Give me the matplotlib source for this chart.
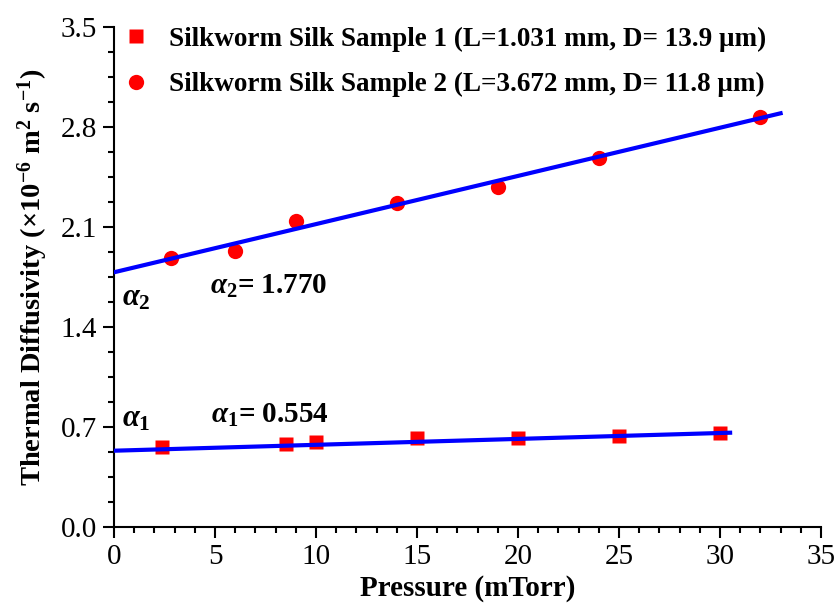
import matplotlib
matplotlib.use("Agg")
import matplotlib.pyplot as plt
from matplotlib.ticker import MultipleLocator

plt.rcParams['font.family'] = ['Liberation Serif', 'DejaVu Serif']
plt.rcParams['mathtext.fontset'] = 'custom'
plt.rcParams['mathtext.rm'] = 'Liberation Serif:bold'
plt.rcParams['mathtext.it'] = 'Liberation Serif:italic:bold'
plt.rcParams['mathtext.bf'] = 'Liberation Serif:bold'

# Data
s1_x = [2.4, 8.5, 10, 15, 20, 25, 30]
s1_y = [0.562, 0.581, 0.597, 0.621, 0.625, 0.639, 0.660]
s2_x = [2.8, 6, 9, 14, 19, 24, 32]
s2_y = [1.881, 1.932, 2.144, 2.266, 2.378, 2.581, 2.872]
fit1_x = [0, 30.5]
fit1_y = [0.534, 0.660]
fit2_x = [0, 33]
fit2_y = [1.783, 2.896]
label1 = 'Silkworm Silk Sample 1 (L=1.031 mm, D= 13.9 μm)'
label2 = 'Silkworm Silk Sample 2 (L=3.672 mm, D= 11.8 μm)'
xticks = [0, 5, 10, 15, 20, 25, 30, 35]
yticks = [0.0, 0.7, 1.4, 2.1, 2.8, 3.5]

fig = plt.figure(figsize=(8.36, 6.05), dpi=100)
ax = fig.add_axes([114/836, 1 - 527/605, (821-114)/836, (527-27)/605])

ax.plot(fit1_x, fit1_y, color='#0000ff', lw=3, zorder=3)
ax.plot(fit2_x, fit2_y, color='#0000ff', lw=3, zorder=3)
h1, = ax.plot(s1_x, s1_y, 's', color='#ff0000', ms=9.5, mec='none', zorder=2, label=label1)
h2, = ax.plot(s2_x, s2_y, 'o', color='#ff0000', ms=11, mec='none', zorder=2, label=label2)

ax.set_xlim(0, 35)
ax.set_ylim(0, 3.5)
ax.set_xticks(xticks)
ax.set_yticks(yticks)
ax.set_yticklabels([f'{v:.1f}' for v in yticks])
ax.xaxis.set_minor_locator(MultipleLocator(1))
ax.yaxis.set_minor_locator(MultipleLocator(0.175))
ax.tick_params(which='major', direction='out', length=8, width=1.5, labelsize=21, pad=4)
ax.tick_params(which='minor', direction='out', length=4.5, width=1.5)
for s in ['top', 'right']:
    ax.spines[s].set_visible(False)
for s in ['left', 'bottom']:
    ax.spines[s].set_linewidth(1.5)

ax.set_xlabel('Pressure (mTorr)', fontsize=21, fontweight='bold', labelpad=4)
ax.set_ylabel(r'Thermal Diffusivity (×10$^{-6}$ m$^{2}$ s$^{-1}$)', fontsize=20.5,
              fontweight='bold', labelpad=8)

leg = ax.legend(handles=[h1, h2], loc='upper left', bbox_to_anchor=(-0.011, 1.033),
                frameon=False, prop={'weight': 'bold', 'size': 19.5},
                handletextpad=0.7, labelspacing=0.75, handlelength=1.0,
                borderaxespad=0.2)

ax.text(0.4, 1.547, r'$\alpha_2$', fontsize=22, ha='left', va='baseline')
ax.text(4.75, 1.631, r'$\alpha_2$= 1.770', fontsize=21, fontweight='bold', ha='left', va='baseline')
ax.text(0.4, 0.702, r'$\alpha_1$', fontsize=22, ha='left', va='baseline')
ax.text(4.8, 0.728, r'$\alpha_1$= 0.554', fontsize=21, fontweight='bold', ha='left', va='baseline')

fig.savefig('out.png', dpi=100)
